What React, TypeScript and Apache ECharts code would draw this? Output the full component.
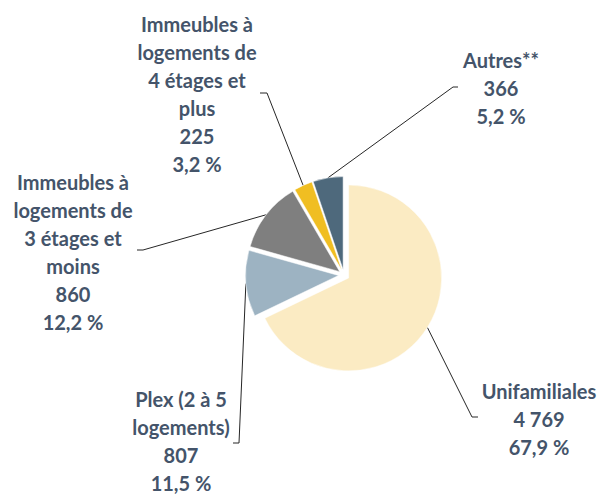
import React, { useEffect, useRef } from "react";
import * as echarts from "echarts";

const categories = [
  "Unifamiliales",
  "Plex (2 à 5\nlogements)",
  "Immeubles à\nlogements de\n3 étages et\nmoins",
  "Immeubles à\nlogements de\n4 étages et\nplus",
  "Autres**",
];
const values = [4769, 807, 860, 225, 366];
const colors = ["#FBEBC3", "#9DB3C2", "#7F7F7F", "#F0BE22", "#4E697C"];

// label block centres and leader elbows (layout only)
const labelPos = [
  { x: 539, y: 419, elbow: [472, 417], end: [478, 417] },
  { x: 181, y: 441, elbow: [239, 443], end: [233, 443] },
  { x: 73, y: 252, elbow: [143, 250], end: [137, 250] },
  { x: 197, y: 94, elbow: [267, 93], end: [260, 93] },
  { x: 501, y: 88, elbow: [453, 87], end: [458, 87] },
];

const CX = 344;
const CY = 275;
const R = 93;
const OFFSET = 5.5;

const total = values.reduce((a, b) => a + b, 0);
const fmtNum = (v: number) => String(v).replace(/\B(?=(\d{3})+(?!\d))/g, " ");
const fmtPct = (v: number) => ((v / total) * 100).toFixed(1).replace(".", ",") + " %";

export default function App() {
  const ref = useRef<HTMLDivElement>(null);
  useEffect(() => {
    if (!ref.current) return;
    const chart = echarts.init(ref.current, undefined, { renderer: "svg" });

    const graphics: any[] = [];
    let cum = 0;
    values.forEach((v, i) => {
      const a0 = (cum / total) * 2 * Math.PI;
      cum += v;
      const a1 = (cum / total) * 2 * Math.PI;
      const mid = (a0 + a1) / 2;
      const sx = CX + (R + OFFSET) * Math.sin(mid);
      const sy = CY - (R + OFFSET) * Math.cos(mid);
      const lp = labelPos[i];
      graphics.push({
        type: "polyline",
        silent: true,
        shape: { points: [[sx, sy], lp.elbow, lp.end] },
        style: { stroke: "#262626", lineWidth: 1, fill: null },
      });
      graphics.push({
        type: "text",
        silent: true,
        x: lp.x,
        y: lp.y,
        style: {
          text: `${categories[i]}\n${fmtNum(v)}\n${fmtPct(v)}`,
          align: "center",
          verticalAlign: "middle",
          fontFamily: "Lato",
          fontWeight: "bold",
          fontSize: 20,
          lineHeight: 28,
          fill: "#44546A",
        },
      });
    });

    chart.setOption({
      animation: false,
      backgroundColor: "#ffffff",
      graphic: graphics,
      series: [
        {
          type: "pie",
          center: [CX, CY],
          radius: R,
          startAngle: 90,
          clockwise: true,
          selectedMode: "multiple",
          selectedOffset: OFFSET,
          avoidLabelOverlap: false,
          itemStyle: { borderColor: "#ffffff", borderWidth: 0.5 },
          label: { show: false },
          labelLine: { show: false },
          emphasis: { disabled: true },
          data: categories.map((name, i) => ({
            name,
            value: values[i],
            selected: true,
            itemStyle: { color: colors[i] },
            select: { itemStyle: { color: colors[i] } },
          })),
        },
      ],
    });
    return () => chart.dispose();
  }, []);
  return (
    <div
      ref={ref}
      style={{ position: "fixed", left: 0, top: 0, width: 600, height: 496 }}
    />
  );
}
